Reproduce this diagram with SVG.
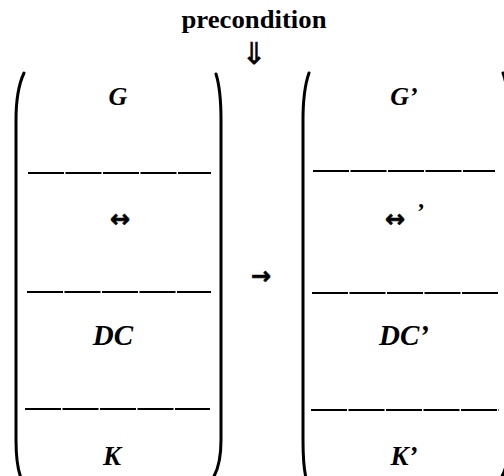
<svg xmlns="http://www.w3.org/2000/svg" width="504" height="476" viewBox="0 0 504 476">
<style>
.lbl{font-family:"Liberation Serif",serif;font-style:italic;font-weight:bold;fill:#000;text-anchor:middle}
.par{fill:none;stroke:#000;stroke-width:3;stroke-linecap:round}
.sep{stroke:#000;stroke-width:2;stroke-dasharray:36 1.5}
.sym{font-family:"DejaVu Sans",sans-serif;font-weight:bold;fill:#000;stroke:#000;stroke-width:0.6;text-anchor:middle}
</style>
<rect width="504" height="476" fill="#fff"/>
<g id="precondition">
<text x="254" y="28" font-family="Liberation Serif,serif" font-weight="bold" font-size="25" text-anchor="middle" textLength="145" lengthAdjust="spacingAndGlyphs">precondition</text>
<text x="254" y="64" font-family="DejaVu Sans,sans-serif" font-size="30" text-anchor="middle" stroke="#000" stroke-width="0.6">⇓</text>
</g>
<g id="state-left">
<path class="par" d="M24,73 Q16,90 16,120 L16,440 Q16,465 21,478"/>
<path class="par" d="M216,74 Q221,90 221,120 L221,440 Q221,465 213,478"/>
<line class="sep" x1="28" y1="173" x2="211" y2="173"/>
<line class="sep" x1="27" y1="292" x2="211" y2="292"/>
<line class="sep" x1="25" y1="409" x2="210" y2="409"/>
<text class="lbl" x="118" y="105" font-size="26">G</text>
<text class="sym" x="120" y="227" font-size="24">↔</text>
<text class="lbl" x="113" y="345" font-size="29">DC</text>
<text class="lbl" x="112" y="465" font-size="27">K</text>
</g>
<g id="connectors">
<text class="sym" x="261" y="284" font-size="24">→</text>
</g>
<g id="state-right">
<path class="par" d="M309,73 Q303,90 303,120 L303,440 Q303,465 306,478"/>
<path class="par" d="M503,73 Q509,90 509,120 L509,440 Q509,465 501,478"/>
<line class="sep" x1="313" y1="171" x2="495" y2="171"/>
<line class="sep" x1="312" y1="293" x2="499" y2="293"/>
<line class="sep" x1="311" y1="410" x2="499" y2="410"/>
<text class="lbl" x="404" y="105" font-size="26">G’</text>
<text class="sym" x="395" y="227" font-size="24">↔</text>
<text class="lbl" x="420" y="219" font-size="24">’</text>
<text class="lbl" x="404" y="345" font-size="29">DC’</text>
<text class="lbl" x="404" y="465" font-size="27">K’</text>
</g>
</svg>
